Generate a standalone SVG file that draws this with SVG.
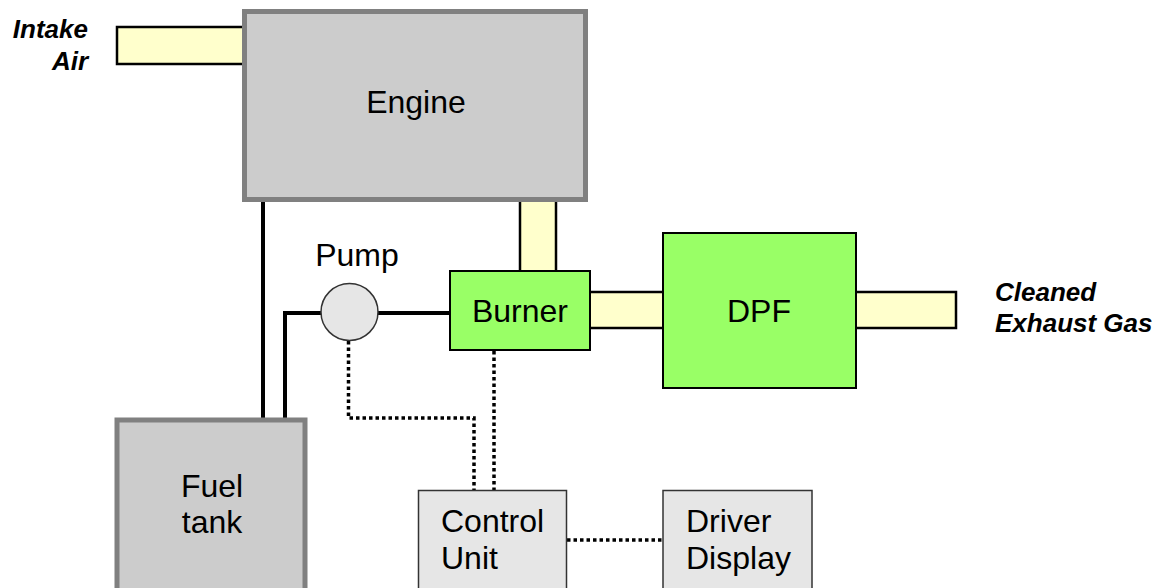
<svg xmlns="http://www.w3.org/2000/svg" width="1170" height="588" viewBox="0 0 1170 588">
<style>
text{font-family:"Liberation Sans",Arial,sans-serif;fill:#000}
.lbl{font-size:32px}
.side{font-size:26px;font-weight:bold;font-style:italic}
.pipe{fill:#ffffcc;stroke:#000;stroke-width:2.5}
.big{fill:#cccccc;stroke:#808080;stroke-width:5}
.green{fill:#99ff66;stroke:#000;stroke-width:2}
.light{fill:#e6e6e6;stroke:#333;stroke-width:1.5}
.fuel{fill:none;stroke:#000;stroke-width:4}
.sig{fill:none;stroke:#000;stroke-width:3.5;stroke-dasharray:3.5 3}
</style>
<g id="connectors">
<rect class="pipe" x="117" y="27" width="130" height="37"/>
<rect class="pipe" x="520" y="195" width="36" height="80"/>
<rect class="pipe" x="586" y="292" width="80" height="36"/>
<rect class="pipe" x="852" y="292" width="104" height="36"/>
<path class="fuel" d="M263,202 V419"/>
<path class="fuel" d="M285,419 V313 H322"/>
<path class="fuel" d="M377,313 H451"/>
<path class="sig" d="M348.5,341 V418 H474 V490"/>
<path class="sig" d="M494,351 V490"/>
<path class="sig" d="M567,540 H663"/>
</g>
<g id="intake-air">
<text class="side" x="88" y="38" text-anchor="end">Intake</text>
<text class="side" x="88" y="70" text-anchor="end">Air</text>
</g>
<g id="engine">
<rect class="big" x="244.5" y="11.5" width="341" height="188"/>
<text class="lbl" x="416" y="113" text-anchor="middle">Engine</text>
</g>
<g id="pump">
<circle cx="349.5" cy="312" r="28.5" fill="#e6e6e6" stroke="#333" stroke-width="1.5"/>
<text class="lbl" x="357" y="266" text-anchor="middle">Pump</text>
</g>
<g id="burner">
<rect class="green" x="450" y="271" width="140" height="79"/>
<text class="lbl" x="520" y="322" text-anchor="middle">Burner</text>
</g>
<g id="dpf">
<rect class="green" x="663" y="233" width="193" height="155"/>
<text class="lbl" x="759" y="322" text-anchor="middle">DPF</text>
</g>
<g id="cleaned-exhaust">
<text class="side" x="995" y="301">Cleaned</text>
<text class="side" x="995" y="332">Exhaust Gas</text>
</g>
<g id="fuel-tank">
<rect class="big" x="117" y="420" width="188" height="175"/>
<text class="lbl" x="212" y="497" text-anchor="middle">Fuel</text>
<text class="lbl" x="212" y="533" text-anchor="middle">tank</text>
</g>
<g id="control-unit">
<rect class="light" x="418.5" y="490.5" width="148" height="110"/>
<text class="lbl" x="441" y="532">Control</text>
<text class="lbl" x="441" y="569">Unit</text>
</g>
<g id="driver-display">
<rect class="light" x="663" y="490.5" width="149" height="110"/>
<text class="lbl" x="686" y="532">Driver</text>
<text class="lbl" x="686" y="569">Display</text>
</g>
</svg>
